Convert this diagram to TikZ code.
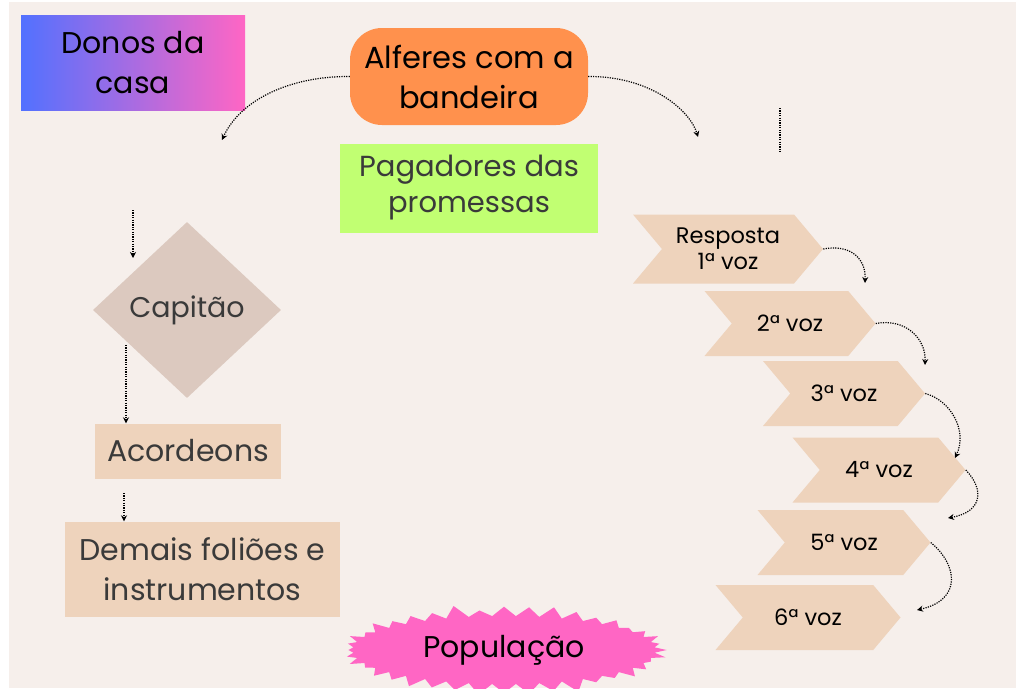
\documentclass[tikz,border=0pt]{standalone}
\usepackage{fontspec}
\setmainfont{Poppins}
\usepackage{xcolor}
\usetikzlibrary{arrows.meta,shapes.geometric,shapes.symbols}

\definecolor{fundo}{HTML}{F6EFEB}
\definecolor{laranja}{HTML}{FF914D}
\definecolor{verde}{HTML}{C1FF72}
\definecolor{azul}{HTML}{5271FF}
\definecolor{rosa}{HTML}{FF66C4}
\definecolor{losango}{HTML}{DCC9BF}
\definecolor{pessego}{HTML}{EED3BC}
\definecolor{texto}{HTML}{3A3A3A}

\begin{document}
\begin{tikzpicture}[x=1pt,y=-1pt,
    caixa/.style={rectangle,inner sep=0pt,align=center,
      font=\fontsize{30}{40}\selectfont},
    voz/.style={signal,signal from=west,signal to=east,
      signal pointer angle=100,fill=pessego,inner sep=0pt,
      minimum height=65pt,align=center,
      font=\fontsize{22.5}{26}\selectfont},
    liga/.style={line width=1.2pt,dash pattern=on 1.2pt off 1.2pt,
      -{Stealth[length=6pt,width=6pt]}}]
\useasboundingbox (0,0) rectangle (1016,688);
\fill[fundo] (9,2) rectangle (1016,688);%

% topo
\node[caixa,minimum width=224pt,minimum height=95pt,left color=azul,
      right color=rosa] (donos) at (133,63) {Donos da\\casa};%
\node[caixa,minimum width=238pt,minimum height=97pt,fill=laranja,
      rounded corners=32pt,font=\fontsize{30.5}{40}\selectfont]
      (alferes) at (469,76.5) {Alferes com a\\bandeira};%
\node[caixa,minimum width=258pt,minimum height=89pt,fill=verde,text=texto,
      font=\fontsize{29}{36}\selectfont] (pagadores) at (469,188)
      {Pagadores das\\promessas};%
\coordinate (esq) at (222,140);
\coordinate (dir) at (698,137);
\coordinate (tr1) at (780,108);
\coordinate (tr2) at (780,152);
\draw[liga] (alferes.west) .. controls (290,76) and (240,100) .. (esq);
\draw[liga] (alferes.east) .. controls (650,76) and (690,110) .. (dir);
\draw[line width=1.2pt,dash pattern=on 1.2pt off 1.2pt] (tr1) -- (tr2);

% coluna da esquerda
\node[diamond,fill=losango,text=texto,inner sep=0pt,minimum width=188pt,
      minimum height=176pt,font=\fontsize{28.5}{36}\selectfont]
      (capitao) at (187,310) {Capitão};%
\node[caixa,minimum width=186pt,minimum height=55pt,fill=pessego,text=texto,
      font=\fontsize{30}{36}\selectfont] (acordeons) at (188,451) {Acordeons};%
\node[caixa,minimum width=275pt,minimum height=95pt,fill=pessego,text=texto,
      font=\fontsize{30}{40}\selectfont] (demais) at (202.5,569)
      {Demais foliões e\\instrumentos};%
\coordinate (c1) at (133,210);
\coordinate (c2) at (133,258);
\coordinate (c3) at (126,345);
\coordinate (c4) at (124,493);
\draw[liga] (c1) -- (c2);
\draw[liga] (c3) -- (c3 |- acordeons.north);
\draw[liga] (c4) -- (c4 |- demais.north);

% populacao
\node[starburst,fill=rosa,draw=none,starburst points=40,
      starburst point height=13pt,minimum width=328pt,minimum height=94pt,
      font=\fontsize{30}{36}\selectfont] (populacao) at (504,650) {População};%

% vozes
\node[voz,minimum width=190pt,minimum height=69pt] (v1) at (728,249) {Resposta\\1ª voz};%
\node[voz,minimum width=171pt] (v2) at (790,323.5) {2ª voz};%
\node[voz,minimum width=162pt] (v3) at (844,393.5) {3ª voz};%
\node[voz,minimum width=173pt] (v4) at (879,470) {4ª voz};%
\node[voz,minimum width=173pt] (v5) at (844,542.5) {5ª voz};%
\node[voz,minimum width=185pt] (v6) at (808,617.5) {6ª voz};%
\coordinate (f1) at (865,283);
\coordinate (f2) at (925,365);
\coordinate (f3) at (955,458);
\coordinate (f4) at (948,518);
\coordinate (f5) at (917,610);
\draw[liga] (v1.east) .. controls (850,244) and (866,258) .. (f1);
\draw[liga] (v2.east) .. controls (905,318) and (926,338) .. (f2);
\draw[liga] (v3.east) .. controls (950,400) and (968,430) .. (f3);
\draw[liga] (v4.east) .. controls (985,490) and (982,512) .. (f4);
\draw[liga] (v5.east) .. controls (958,565) and (962,600) .. (f5);
\end{tikzpicture}
\end{document}
